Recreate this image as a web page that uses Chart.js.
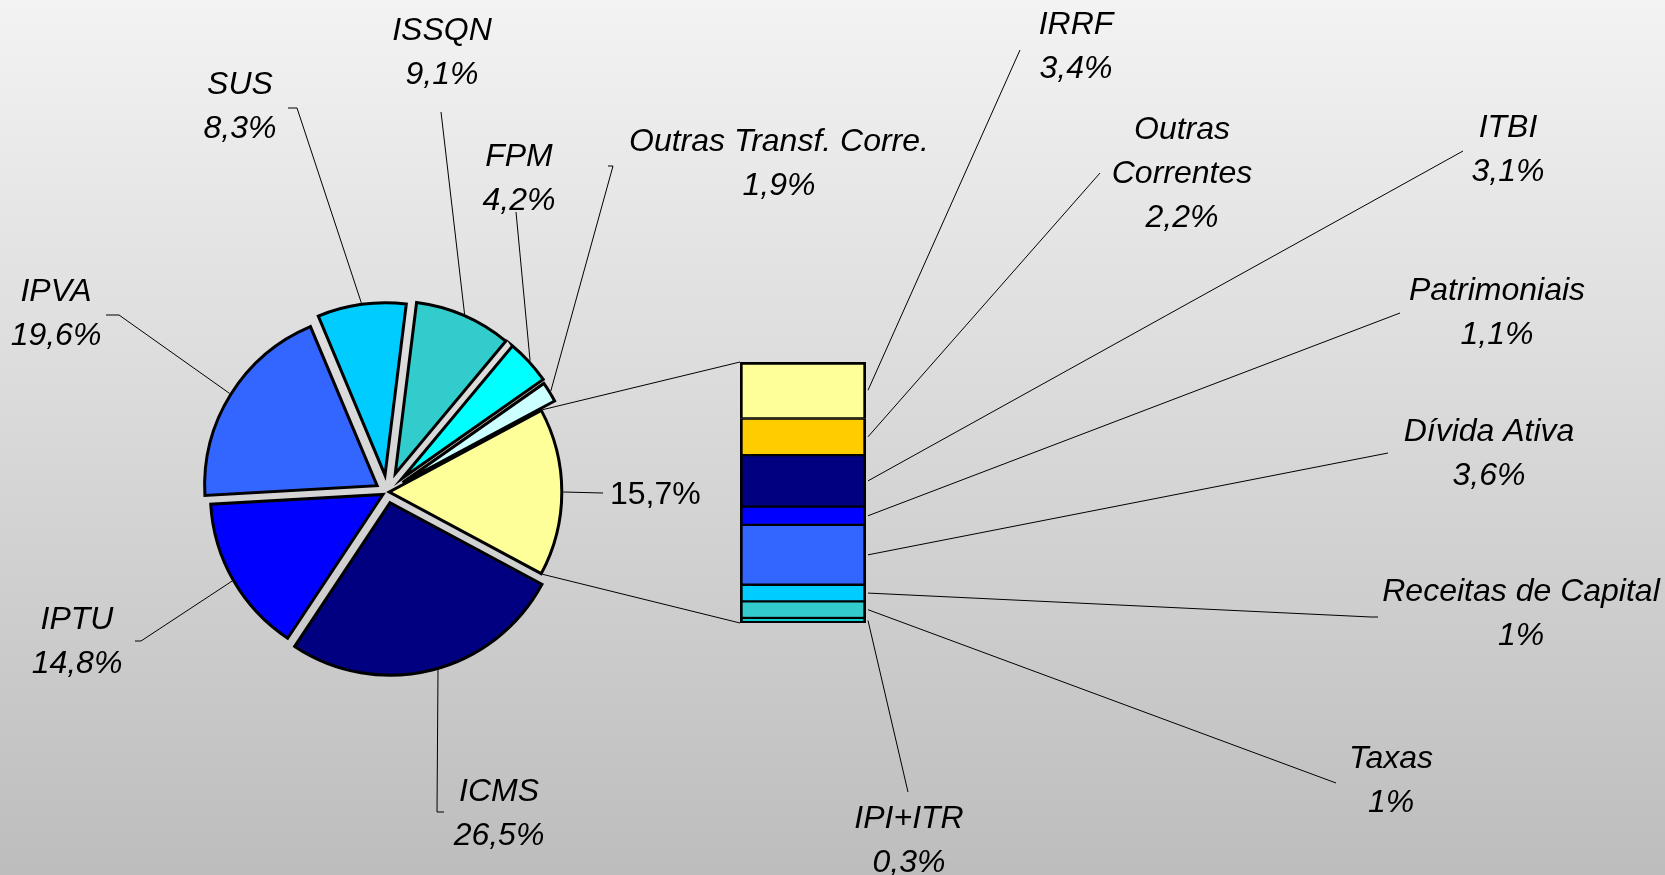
<!DOCTYPE html>
<html><head><meta charset="utf-8">
<script src="https://cdn.jsdelivr.net/npm/chart.js@4.4.1/dist/chart.umd.min.js"></script>
<style>
html,body{margin:0;padding:0;width:1665px;height:875px;overflow:hidden;}
body{background:linear-gradient(to bottom,#f3f3f3 0%,#bdbdbd 100%);}
#wrap{position:relative;width:1665px;height:875px;}
canvas{position:absolute;left:0;top:0;}
</style></head><body>
<div id="wrap"><canvas id="pie" width="1665" height="875"></canvas><canvas id="bar" width="1665" height="875"></canvas></div>
<script>
// ---- data ----
const pieLabels = ['Outras', 'ICMS', 'IPTU', 'IPVA', 'SUS', 'ISSQN', 'FPM', 'Outras Transf. Corre.'];
const pieValues = [15.7, 26.5, 14.8, 19.6, 8.3, 9.1, 4.2, 1.9];
const pieColors = ['#FFFF99', '#000080', '#0000FF', '#3366FF', '#00CCFF', '#33CCCC', '#00FFFF', '#CCFFFF'];

const barLabels = ['IRRF', 'Outras Correntes', 'ITBI', 'Patrimoniais', 'Dívida Ativa', 'Receitas de Capital', 'Taxas', 'IPI+ITR'];
const barValues = [3.4, 2.2, 3.1, 1.1, 3.6, 1, 1, 0.3];
const barColors = ['#FFFF99', '#FFCC00', '#000080', '#0000FF', '#3366FF', '#00CCFF', '#33CCCC', '#00FFFF'];

// ---- layout (explosion per slice, label positions / leader paths, in page pixels) ----
const pieExplode = [2, 11, 5, 12, 17, 20, 20, 18];
const pieLabelPos = [
  {x: 610, y: 495, align: 'left', upright: true, nameless: true, path: [[603, 493]]},
  {x: 499, y: 792, frac: 0.48, path: [[444, 812], [437, 812]]},
  {x: 77, y: 620, path: [[135, 641], [141, 641]]},
  {x: 56, y: 292, path: [[106, 315], [119, 315]]},
  {x: 240, y: 85, path: [[288, 108], [297, 108]]},
  {x: 442, y: 31, path: [[441, 112]]},
  {x: 519, y: 157, path: [[516, 212]]},
  {x: 779, y: 142, path: [[608, 166], [613, 166]]}
];
const barLabelPos = [
  {x: 1076, y: 25, path: [[1020, 50]]},
  {x: 1182, y: 130, lines: ['Outras', 'Correntes'], path: [[1100, 173]]},
  {x: 1508, y: 128, path: [[1463, 151]]},
  {x: 1497, y: 291, path: [[1400, 313]]},
  {x: 1489, y: 432, path: [[1388, 453]]},
  {x: 1521, y: 592, path: [[1371, 617], [1378, 617]]},
  {x: 1391, y: 759, path: [[1336, 783]]},
  {x: 909, y: 819, path: [[908, 792]]}
];

const FONT_I = 'italic 32px "Liberation Sans", Arial, sans-serif';
const FONT_R = '32px "Liberation Sans", Arial, sans-serif';
const LINE_H = 44;

const fmt = v => String(v).replace('.', ',') + '%';
const pieTotal = pieValues.reduce((a, b) => a + b, 0);
const barTotal = barValues.reduce((a, b) => a + b, 0);
const rotation = 90 - (pieValues[0] / pieTotal * 360) / 2;

const explodePlugin = {
  id: 'explode',
  afterDatasetUpdate(chart, args) {
    args.meta.data.forEach((arc, i) => {
      const mid = (arc.startAngle + arc.endAngle) / 2;
      const d = pieExplode[i] || 0;
      arc.x += d * Math.cos(mid);
      arc.y += d * Math.sin(mid);
    });
  }
};

const pieChart = new Chart(document.getElementById('pie'), {
  type: 'pie',
  data: {
    labels: pieLabels,
    datasets: [{
      data: pieValues,
      backgroundColor: pieColors,
      borderColor: '#000000',
      borderWidth: 3,
      borderJoinStyle: 'miter',
      hoverOffset: 0,
      hoverBorderWidth: 3
    }]
  },
  options: {
    responsive: false,
    animation: false,
    events: [],
    rotation: rotation,
    layout: {padding: {left: 213.3, right: 1103.7, top: 318, bottom: 209}},
    plugins: {legend: {display: false}, tooltip: {enabled: false}}
  },
  plugins: [explodePlugin]
});

function arcPoint(arc, angle) {
  const r = arc.outerRadius + 1.5;
  return [arc.x + Math.cos(angle) * r, arc.y + Math.sin(angle) * r];
}

function drawText(ctx, lines, x, y, align, upright) {
  ctx.font = upright ? FONT_R : FONT_I;
  ctx.textAlign = align || 'center';
  ctx.textBaseline = 'middle';
  ctx.fillStyle = '#000';
  lines.forEach((t, i) => ctx.fillText(t, x, y + i * LINE_H));
}

const labelPlugin = {
  id: 'labels',
  afterDraw(chart) {
    const ctx = chart.ctx;
    ctx.save();
    ctx.strokeStyle = '#000';
    ctx.lineWidth = 1;
    const pieMeta = pieChart.getDatasetMeta(0);
    const n = barValues.length;
    // connectors from the "other" slice to the bar
    const other = pieMeta.data[0];
    const topBar = chart.getDatasetMeta(n - 1).data[0];
    const botBar = chart.getDatasetMeta(0).data[0];
    const p1 = arcPoint(other, other.startAngle);
    const p2 = arcPoint(other, other.endAngle);
    ctx.beginPath();
    ctx.moveTo(p1[0], p1[1]);
    ctx.lineTo(topBar.x - topBar.width / 2, Math.min(topBar.y, topBar.base));
    ctx.moveTo(p2[0], p2[1]);
    ctx.lineTo(botBar.x - botBar.width / 2, Math.max(botBar.y, botBar.base));
    ctx.stroke();

    // pie labels
    pieMeta.data.forEach((arc, i) => {
      const L = pieLabelPos[i];
      const f = L.frac == null ? 0.5 : L.frac;
      const rim = arcPoint(arc, arc.startAngle + (arc.endAngle - arc.startAngle) * f);
      ctx.beginPath();
      ctx.moveTo(L.path[0][0], L.path[0][1]);
      L.path.slice(1).forEach(p => ctx.lineTo(p[0], p[1]));
      ctx.lineTo(rim[0], rim[1]);
      ctx.stroke();
      const lines = L.nameless ? [fmt(pieValues[i])] : [pieLabels[i], fmt(pieValues[i])];
      drawText(ctx, lines, L.x, L.y, L.align, L.upright);
    });

    // bar labels
    barLabels.forEach((name, i) => {
      const L = barLabelPos[i];
      const el = chart.getDatasetMeta(n - 1 - i).data[0];
      const sx = el.x + el.width / 2 + 2;
      const sy = (el.y + el.base) / 2;
      ctx.beginPath();
      ctx.moveTo(sx, sy);
      L.path.forEach(p => ctx.lineTo(p[0], p[1]));
      ctx.stroke();
      const lines = (L.lines || [name]).concat([fmt(barValues[i])]);
      drawText(ctx, lines, L.x, L.y);
    });
    ctx.restore();
  }
};

// stacked bar: first dataset sits at the bottom, so build from the bottom item up
const barDatasets = barLabels.map((name, i) => {
  const isTop = i === 0, isBottom = i === barLabels.length - 1;
  return {
    label: name,
    data: [barValues[i]],
    backgroundColor: barColors[i],
    borderColor: '#000000',
    borderWidth: {left: 3, right: 3, top: isTop ? 3 : 1.5, bottom: isBottom ? 3 : 1.5},
    borderSkipped: false
  };
}).reverse();

new Chart(document.getElementById('bar'), {
  type: 'bar',
  data: {labels: [''], datasets: barDatasets},
  options: {
    responsive: false,
    animation: false,
    events: [],
    categoryPercentage: 1,
    barPercentage: 1,
    layout: {padding: {left: 740, right: 799, top: 362, bottom: 252}},
    scales: {
      x: {stacked: true, display: false},
      y: {stacked: true, display: false, min: 0, max: barTotal}
    },
    plugins: {legend: {display: false}, tooltip: {enabled: false}}
  },
  plugins: [labelPlugin]
});
</script>
</body></html>
